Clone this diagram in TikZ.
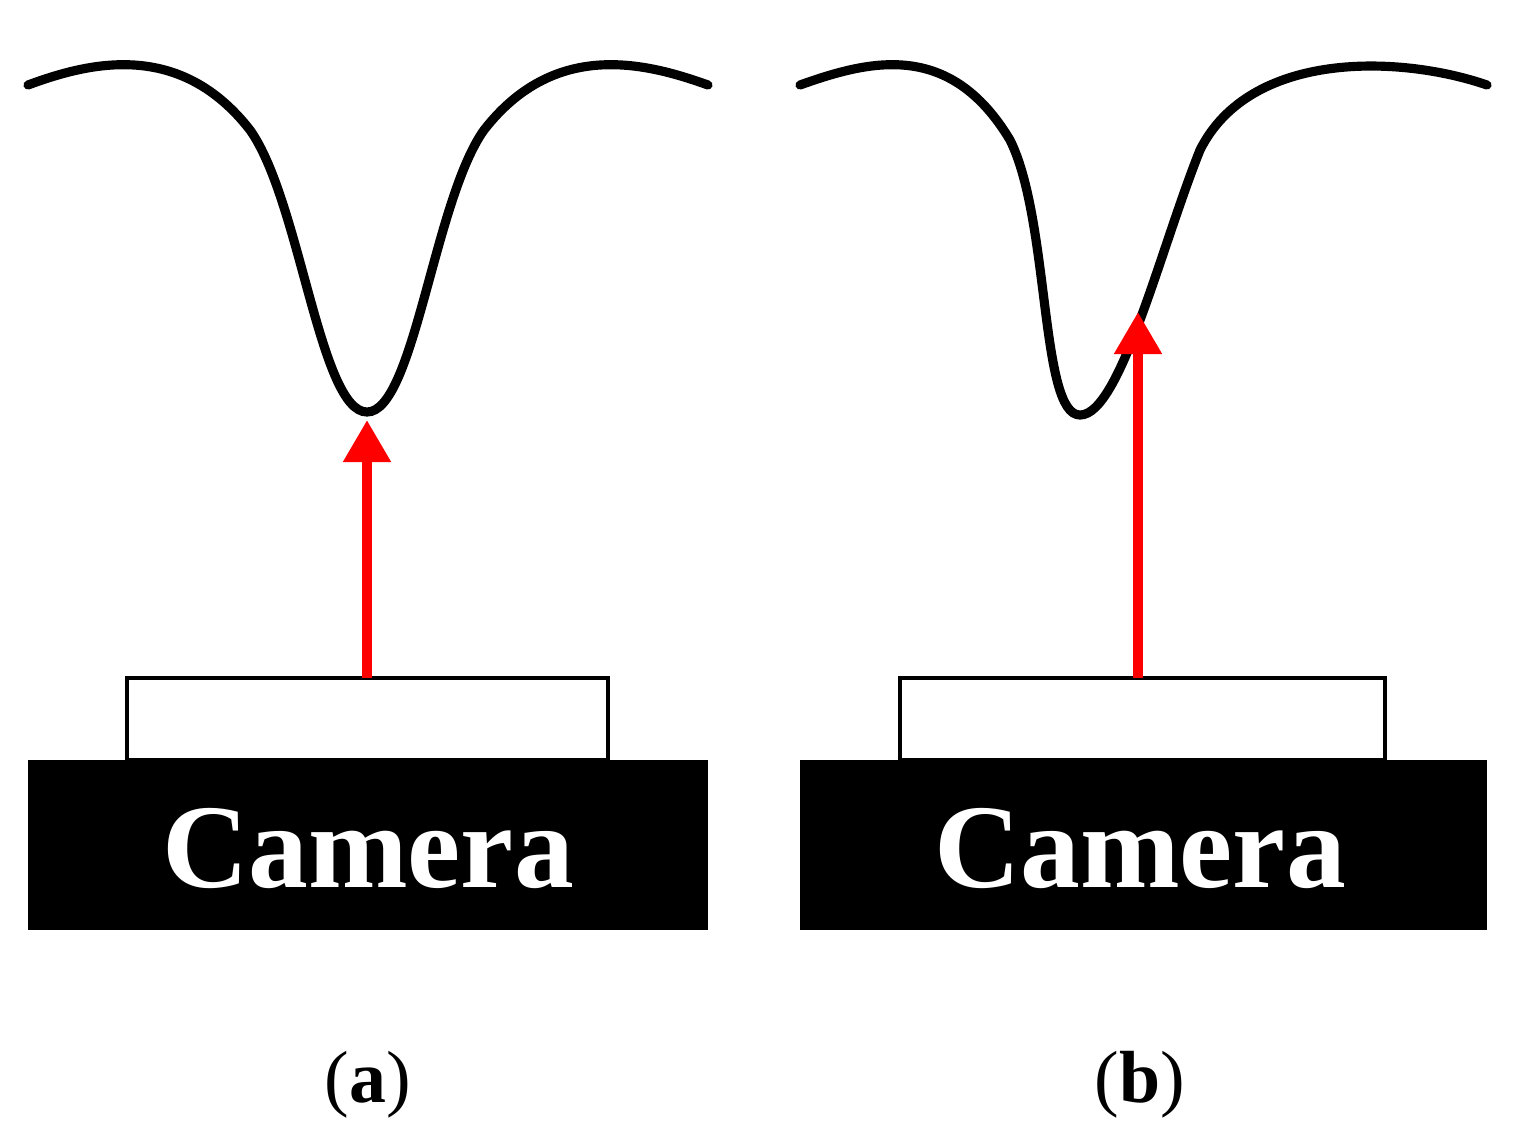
\documentclass[tikz,border=0pt]{standalone}
\usepackage{fontspec}
\setmainfont{Liberation Serif}
\usetikzlibrary{arrows.meta}
\begin{document}
\begin{tikzpicture}[x=0.01cm,y=-0.01cm,
  base/.style={fill=black,draw=none},
  lens/.style={draw=black,line width=1.2pt,fill=white},
  curve/.style={line width=2.6pt,line cap=round},
  ray/.style={red,line width=2.8pt,-{Triangle[length=12pt,width=13pt]}},
  cam/.style={text=white,font=\bfseries\fontsize{34}{36}\selectfont},
  lab/.style={font=\fontsize{21}{24}\selectfont}]
\useasboundingbox (0,0) rectangle (1527,1141);
% panel a
\fill[base] (28,760) rectangle (708,930);
\node[cam] (ca) at (368,848) {Camera};
\draw[lens] (127,678) rectangle (608,760);
\coordinate (la) at (367,678);
\coordinate (ta) at (367,420);
\draw[curve] (28,85) .. controls (90,62) and (180,40) .. (250,130) .. controls (300,200) and (320,412) .. (367,412) .. controls (414,412) and (434,200) .. (484,130) .. controls (554,40) and (644,62) .. (708,85);
\draw[ray] (la) -- (ta);
\node[lab] (a) at (368,1085) {(\textbf{a})};
% panel b
\fill[base] (800,760) rectangle (1487,930);
\node[cam] (cb) at (1140,848) {Camera};
\draw[lens] (900,678) rectangle (1385,760);
\coordinate (lb) at (1138,678);
\coordinate (tb) at (1138,312);
\draw[curve] (800,85) .. controls (870,60) and (950,40) .. (1010,140) .. controls (1050,220) and (1040,415) .. (1080,415) .. controls (1120,415) and (1160,250) .. (1200,150) .. controls (1250,50) and (1400,55) .. (1487,85);
\draw[ray] (lb) -- (tb);
\node[lab] (b) at (1140,1085) {(\textbf{b})};
\end{tikzpicture}
\end{document}
